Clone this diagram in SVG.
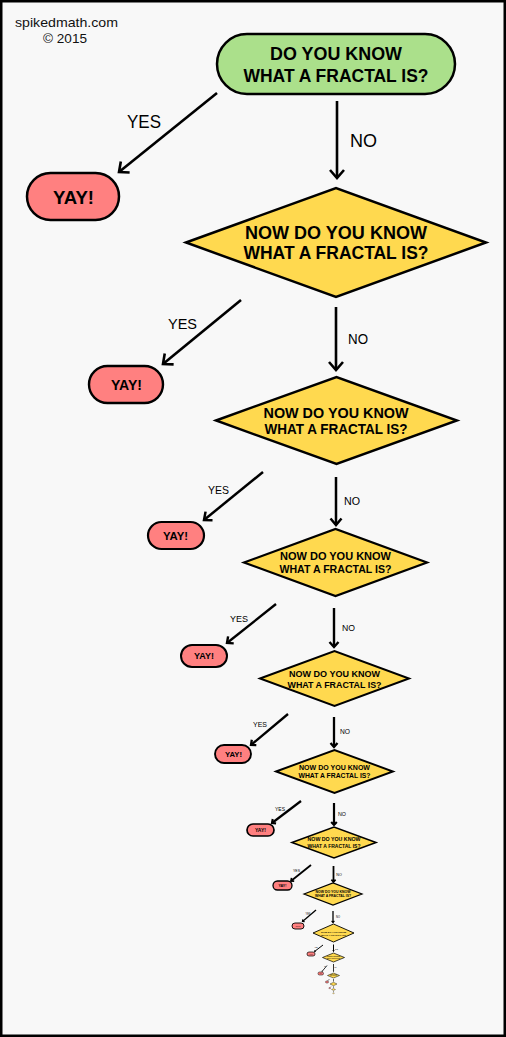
<svg xmlns="http://www.w3.org/2000/svg" width="506" height="1037" viewBox="0 0 506 1037">
<style>
.bg{fill:#f8f8f8;stroke:#000;stroke-width:2.5}
.start{fill:#abe08b;stroke:#000}
.dec{fill:#ffd94f;stroke:#000;stroke-linejoin:miter;stroke-miterlimit:10}
.yay{fill:#ff8080;stroke:#000}
.t{font-family:"Liberation Sans",Arial,sans-serif;font-weight:bold;fill:#000;text-anchor:middle}
.lbl{font-family:"Liberation Sans",Arial,sans-serif;fill:#000;text-anchor:middle}
.credit{font-family:"Liberation Sans",Arial,sans-serif;font-size:13px;fill:#111;text-anchor:middle}
.c line{stroke:#000;fill:none}
.ah{fill:none;stroke:#000;stroke-linejoin:miter;stroke-linecap:butt}
</style>
<defs>
<marker id="h10" markerUnits="userSpaceOnUse" viewBox="-12 -10 16 20" markerWidth="16" markerHeight="20" refX="0" refY="0" orient="auto" overflow="visible"><path class="ah" d="M-8,-7 L0,0 L-8,7" stroke-width="2.6"/></marker>
<marker id="h8" markerUnits="userSpaceOnUse" viewBox="-10 -8 13 16" markerWidth="13" markerHeight="16" refX="0" refY="0" orient="auto" overflow="visible"><path class="ah" d="M-6.5,-5.5 L0,0 L-6.5,5.5" stroke-width="2.5"/></marker>
<marker id="h6" markerUnits="userSpaceOnUse" viewBox="-8 -7 11 14" markerWidth="11" markerHeight="14" refX="0" refY="0" orient="auto" overflow="visible"><path class="ah" d="M-5,-4.5 L0,0 L-5,4.5" stroke-width="2.4"/></marker>
<marker id="h5" markerUnits="userSpaceOnUse" viewBox="-7 -6 10 12" markerWidth="10" markerHeight="12" refX="0" refY="0" orient="auto" overflow="visible"><path class="ah" d="M-4,-3.5 L0,0 L-4,3.5" stroke-width="2.3"/></marker>
<marker id="h4" markerUnits="userSpaceOnUse" viewBox="-6 -5 9 10" markerWidth="9" markerHeight="10" refX="0" refY="0" orient="auto" overflow="visible"><path class="ah" d="M-3,-2.8 L0,0 L-3,2.8" stroke-width="2.1"/></marker>
<marker id="h3" markerUnits="userSpaceOnUse" viewBox="-5 -4 7 8" markerWidth="7" markerHeight="8" refX="0" refY="0" orient="auto" overflow="visible"><path class="ah" d="M-2.4,-2.1 L0,0 L-2.4,2.1" stroke-width="1.7"/></marker>
<marker id="h2" markerUnits="userSpaceOnUse" viewBox="-3 -3 5 6" markerWidth="5" markerHeight="6" refX="0" refY="0" orient="auto" overflow="visible"><path class="ah" d="M-1.6,-1.4 L0,0 L-1.6,1.4" stroke-width="1.2"/></marker>
<marker id="h1" markerUnits="userSpaceOnUse" viewBox="-2 -2 3 4" markerWidth="3" markerHeight="4" refX="0" refY="0" orient="auto" overflow="visible"><path class="ah" d="M-1,-0.9 L0,0 L-1,0.9" stroke-width="0.8"/></marker>
<marker id="h0" markerUnits="userSpaceOnUse" viewBox="-1 -1 2 2" markerWidth="2" markerHeight="2" refX="0" refY="0" orient="auto" overflow="visible"><path class="ah" d="M-0.6,-0.5 L0,0 L-0.6,0.5" stroke-width="0.5"/></marker>
</defs>

<rect class="bg" x="1.25" y="1.25" width="503.5" height="1034.5"/>

<g id="credit">
<text class="credit" x="66.5" y="27" textLength="103" lengthAdjust="spacingAndGlyphs">spikedmath.com</text>
<text class="credit" x="65" y="42.5" textLength="44" lengthAdjust="spacingAndGlyphs">© 2015</text>
</g>

<g id="connectors" class="c">
<g id="c0">
<line x1="217" y1="93" x2="119" y2="172" stroke-width="2.6" marker-end="url(#h10)"/>
<text class="lbl" x="144" y="128" font-size="19" textLength="34" lengthAdjust="spacingAndGlyphs">YES</text>
<line x1="337" y1="101" x2="337" y2="178" stroke-width="2.6" marker-end="url(#h10)"/>
<text class="lbl" x="363.5" y="147" font-size="19" textLength="27" lengthAdjust="spacingAndGlyphs">NO</text>
</g>
<g id="c1">
<line x1="241" y1="300" x2="163" y2="364" stroke-width="2.6" marker-end="url(#h10)"/>
<text class="lbl" x="182.5" y="329" font-size="14" textLength="29" lengthAdjust="spacingAndGlyphs">YES</text>
<line x1="336" y1="307" x2="336" y2="370" stroke-width="2.6" marker-end="url(#h10)"/>
<text class="lbl" x="358" y="344" font-size="14" textLength="20" lengthAdjust="spacingAndGlyphs">NO</text>
</g>
<g id="c2">
<line x1="263" y1="472" x2="204" y2="520" stroke-width="2.5" marker-end="url(#h8)"/>
<text class="lbl" x="218.5" y="494" font-size="11" textLength="21" lengthAdjust="spacingAndGlyphs">YES</text>
<line x1="336" y1="477" x2="336" y2="525" stroke-width="2.5" marker-end="url(#h8)"/>
<text class="lbl" x="352" y="505" font-size="11" textLength="16" lengthAdjust="spacingAndGlyphs">NO</text>
</g>
<g id="c3">
<line x1="276" y1="604" x2="227" y2="643" stroke-width="2.4" marker-end="url(#h6)"/>
<text class="lbl" x="239" y="622" font-size="9.5" textLength="18" lengthAdjust="spacingAndGlyphs">YES</text>
<line x1="334" y1="608" x2="334" y2="647" stroke-width="2.4" marker-end="url(#h6)"/>
<text class="lbl" x="348.5" y="631" font-size="9.5" textLength="13" lengthAdjust="spacingAndGlyphs">NO</text>
</g>
<g id="c4">
<line x1="288" y1="714" x2="251" y2="745" stroke-width="2.3" marker-end="url(#h5)"/>
<text class="lbl" x="260" y="727" font-size="7" textLength="14" lengthAdjust="spacingAndGlyphs">YES</text>
<line x1="334" y1="717" x2="334" y2="747" stroke-width="2.3" marker-end="url(#h5)"/>
<text class="lbl" x="345" y="734" font-size="7" textLength="10" lengthAdjust="spacingAndGlyphs">NO</text>
</g>
<g id="c5">
<line x1="301" y1="801" x2="272" y2="823" stroke-width="2.2" marker-end="url(#h4)"/>
<text class="lbl" x="280" y="811" font-size="5.5" textLength="10" lengthAdjust="spacingAndGlyphs">YES</text>
<line x1="334" y1="803" x2="334" y2="825" stroke-width="2.2" marker-end="url(#h4)"/>
<text class="lbl" x="342" y="816" font-size="5.5" textLength="8" lengthAdjust="spacingAndGlyphs">NO</text>
</g>
<g id="c6">
<line x1="311" y1="865" x2="291" y2="881" stroke-width="1.8" marker-end="url(#h3)"/>
<text class="lbl" x="296.5" y="871.5" font-size="4" textLength="7" lengthAdjust="spacingAndGlyphs">YES</text>
<line x1="333.5" y1="866" x2="333.5" y2="882" stroke-width="1.8" marker-end="url(#h3)"/>
<text class="lbl" x="339" y="876" font-size="4" textLength="5.5" lengthAdjust="spacingAndGlyphs">NO</text>
</g>
<g id="c7">
<line x1="316" y1="910" x2="302.5" y2="921.5" stroke-width="1.3" marker-end="url(#h2)"/>
<text class="lbl" x="308" y="914.5" font-size="2.8" textLength="5" lengthAdjust="spacingAndGlyphs">YES</text>
<line x1="333" y1="911" x2="333" y2="922.5" stroke-width="1.3" marker-end="url(#h2)"/>
<text class="lbl" x="338" y="917.5" font-size="2.8" textLength="4" lengthAdjust="spacingAndGlyphs">NO</text>
</g>
<g id="c8">
<line x1="323" y1="945" x2="314.5" y2="951.5" stroke-width="1" marker-end="url(#h1)"/>
<text class="lbl" x="316" y="947.5" font-size="2" textLength="3.5" lengthAdjust="spacingAndGlyphs">YES</text>
<line x1="333.5" y1="944.5" x2="333.5" y2="951.5" stroke-width="1" marker-end="url(#h1)"/>
<text class="lbl" x="336.5" y="949.5" font-size="2" textLength="2.8" lengthAdjust="spacingAndGlyphs">NO</text>
</g>
<g id="c9">
<line x1="327" y1="965.5" x2="322" y2="971.5" stroke-width="0.8" marker-end="url(#h0)"/>
<text class="lbl" x="325" y="967" font-size="1.2" textLength="2.2" lengthAdjust="spacingAndGlyphs">YES</text>
<line x1="333.5" y1="964" x2="333.5" y2="971.5" stroke-width="0.8" marker-end="url(#h0)"/>
<text class="lbl" x="335.5" y="968" font-size="1.2" textLength="1.8" lengthAdjust="spacingAndGlyphs">NO</text>
</g>
<g id="c10">
<line x1="329.5" y1="979" x2="327.5" y2="981" stroke-width="0.5"/>
<line x1="333.5" y1="979" x2="333.5" y2="981.6" stroke-width="0.6"/>
</g>
<g id="c11">
<line x1="331" y1="986.5" x2="330" y2="987.5" stroke-width="0.4"/>
<line x1="333.5" y1="986.3" x2="333.5" y2="987.9" stroke-width="0.5"/>
</g>
<g id="c12">
<line x1="333.5" y1="991" x2="333.5" y2="992.4" stroke-width="0.4"/>
</g>
</g>

<g id="n0">
<rect class="start" x="217" y="34" width="238" height="60" rx="30" stroke-width="2.5"/>
<text class="t" x="336" y="60" font-size="18.5" textLength="132" lengthAdjust="spacingAndGlyphs">DO YOU KNOW</text>
<text class="t" x="336" y="81.7" font-size="18.5" textLength="185" lengthAdjust="spacingAndGlyphs">WHAT A FRACTAL IS?</text>
</g>
<g id="y0">
<rect class="yay" x="27" y="173" width="92" height="47" rx="23.5" stroke-width="2.5"/>
<text class="t" x="73.5" y="204" font-size="18.5" textLength="41" lengthAdjust="spacingAndGlyphs">YAY!</text>
</g>

<g id="n1">
<polygon class="dec" points="186,242.5 336,188 486,242.5 336,297" stroke-width="2.5"/>
<text class="t" x="336" y="238.7" font-size="18.5" textLength="182" lengthAdjust="spacingAndGlyphs">NOW DO YOU KNOW</text>
<text class="t" x="336" y="259.3" font-size="18.5" textLength="185" lengthAdjust="spacingAndGlyphs">WHAT A FRACTAL IS?</text>
</g>
<g id="y1">
<rect class="yay" x="89" y="366" width="74" height="37" rx="18.5" stroke-width="2.4"/>
<text class="t" x="126.5" y="390" font-size="15" textLength="31" lengthAdjust="spacingAndGlyphs">YAY!</text>
</g>

<g id="n2">
<polygon class="dec" points="216,420.5 336.5,377 457,420.5 336.5,464" stroke-width="2.4"/>
<text class="t" x="336" y="418" font-size="15" textLength="145" lengthAdjust="spacingAndGlyphs">NOW DO YOU KNOW</text>
<text class="t" x="336" y="434" font-size="15" textLength="143" lengthAdjust="spacingAndGlyphs">WHAT A FRACTAL IS?</text>
</g>
<g id="y2">
<rect class="yay" x="148" y="522" width="56" height="27" rx="13.5" stroke-width="2.2"/>
<text class="t" x="175.5" y="540" font-size="11.5" textLength="25" lengthAdjust="spacingAndGlyphs">YAY!</text>
</g>

<g id="n3">
<polygon class="dec" points="244,562.5 335.5,529 427,562.5 335.5,596" stroke-width="2.2"/>
<text class="t" x="335.5" y="560" font-size="11.5" textLength="111" lengthAdjust="spacingAndGlyphs">NOW DO YOU KNOW</text>
<text class="t" x="335.5" y="573" font-size="11.5" textLength="112" lengthAdjust="spacingAndGlyphs">WHAT A FRACTAL IS?</text>
</g>
<g id="y3">
<rect class="yay" x="181" y="645" width="46" height="22" rx="11" stroke-width="2"/>
<text class="t" x="204" y="659" font-size="9.5" textLength="20" lengthAdjust="spacingAndGlyphs">YAY!</text>
</g>

<g id="n4">
<polygon class="dec" points="260,678.5 334.5,651 409,678.5 334.5,706" stroke-width="2"/>
<text class="t" x="334.5" y="677" font-size="9" textLength="91" lengthAdjust="spacingAndGlyphs">NOW DO YOU KNOW</text>
<text class="t" x="334.5" y="687.5" font-size="9" textLength="94" lengthAdjust="spacingAndGlyphs">WHAT A FRACTAL IS?</text>
</g>
<g id="y4">
<rect class="yay" x="215" y="745" width="36" height="18" rx="9" stroke-width="1.9"/>
<text class="t" x="233.5" y="757" font-size="7.5" textLength="17" lengthAdjust="spacingAndGlyphs">YAY!</text>
</g>

<g id="n5">
<polygon class="dec" points="276,771.5 334.5,750 393,771.5 334.5,793" stroke-width="1.9"/>
<text class="t" x="334.5" y="770" font-size="6.5" textLength="71" lengthAdjust="spacingAndGlyphs">NOW DO YOU KNOW</text>
<text class="t" x="334.5" y="777.5" font-size="6.5" textLength="72" lengthAdjust="spacingAndGlyphs">WHAT A FRACTAL IS?</text>
</g>
<g id="y5">
<rect class="yay" x="247" y="824" width="27" height="12" rx="6" stroke-width="1.7"/>
<text class="t" x="260.5" y="832" font-size="5.5" textLength="11" lengthAdjust="spacingAndGlyphs">YAY!</text>
</g>

<g id="n6">
<polygon class="dec" points="292,842.5 334,827 376,842.5 334,858" stroke-width="1.6"/>
<text class="t" x="334" y="841" font-size="4.5" textLength="53" lengthAdjust="spacingAndGlyphs">NOW DO YOU KNOW</text>
<text class="t" x="334" y="847.5" font-size="4.5" textLength="53" lengthAdjust="spacingAndGlyphs">WHAT A FRACTAL IS?</text>
</g>
<g id="y6">
<rect class="yay" x="273" y="881" width="19" height="9" rx="4.5" stroke-width="1.3"/>
<text class="t" x="282.5" y="886.8" font-size="4" textLength="8" lengthAdjust="spacingAndGlyphs">YAY!</text>
</g>

<g id="n7">
<polygon class="dec" points="304,894 333,883 362,894 333,905" stroke-width="1.2"/>
<text class="t" x="333" y="893.3" font-size="3.5" textLength="35" lengthAdjust="spacingAndGlyphs">NOW DO YOU KNOW</text>
<text class="t" x="333" y="897.3" font-size="3.5" textLength="36" lengthAdjust="spacingAndGlyphs">WHAT A FRACTAL IS?</text>
</g>
<g id="y7">
<rect class="yay" x="292" y="923" width="12" height="6" rx="3" stroke-width="0.9"/>
<text class="t" x="298" y="927" font-size="2.5" textLength="5" lengthAdjust="spacingAndGlyphs">YAY!</text>
</g>

<g id="n8">
<polygon class="dec" points="313,933 333.5,924 354,933 333.5,942" stroke-width="0.9"/>
<text class="t" x="333.5" y="932.5" font-size="2.4" textLength="25" lengthAdjust="spacingAndGlyphs">NOW DO YOU KNOW</text>
<text class="t" x="333.5" y="935.5" font-size="2.4" textLength="25" lengthAdjust="spacingAndGlyphs">WHAT A FRACTAL IS?</text>
</g>
<g id="y8">
<rect class="yay" x="307" y="952" width="8" height="4" rx="2" stroke-width="0.7"/>
<text class="t" x="311" y="954.8" font-size="1.7" textLength="3.4" lengthAdjust="spacingAndGlyphs">YAY!</text>
</g>

<g id="n9">
<polygon class="dec" points="322.5,957.5 333.5,953 344.5,957.5 333.5,962" stroke-width="0.7"/>
<text class="t" x="333.5" y="957.2" font-size="1.3" textLength="13" lengthAdjust="spacingAndGlyphs">NOW DO YOU KNOW</text>
<text class="t" x="333.5" y="958.8" font-size="1.3" textLength="13" lengthAdjust="spacingAndGlyphs">WHAT A FRACTAL IS?</text>
</g>
<g id="y9">
<rect class="yay" x="318" y="972" width="5.5" height="3" rx="1.5" stroke-width="0.5"/>
<text class="t" x="320.7" y="974" font-size="1" textLength="2.4" lengthAdjust="spacingAndGlyphs">YAY!</text>
</g>

<g id="n10">
<polygon class="dec" points="327.5,975.5 333.5,973 339.5,975.5 333.5,978" stroke-width="0.5"/>
<text class="t" x="333.5" y="975.4" font-size="0.7" textLength="6.6" lengthAdjust="spacingAndGlyphs">NOW DO YOU KNOW</text>
<text class="t" x="333.5" y="976.2" font-size="0.7" textLength="6.6" lengthAdjust="spacingAndGlyphs">WHAT A FRACTAL IS?</text>
</g>
<g id="y10">
<rect class="yay" x="325.5" y="981" width="3" height="2" rx="1" stroke-width="0.4"/>
</g>

<g id="n11">
<polygon class="dec" points="330,984 333.5,982.3 337,984 333.5,985.7" stroke-width="0.4"/>
</g>
<g id="y11">
<rect class="yay" x="328.8" y="987.6" width="1.8" height="1" rx="0.5" stroke-width="0.3"/>
</g>

<g id="n12">
<polygon class="dec" points="331.5,989.5 333.5,988.5 335.5,989.5 333.5,990.5" stroke-width="0.3"/>
</g>
<g id="n13">
<polygon class="dec" points="332.5,993.3 333.5,992.8 334.5,993.3 333.5,993.8" stroke-width="0.2"/>
</g>
</svg>
